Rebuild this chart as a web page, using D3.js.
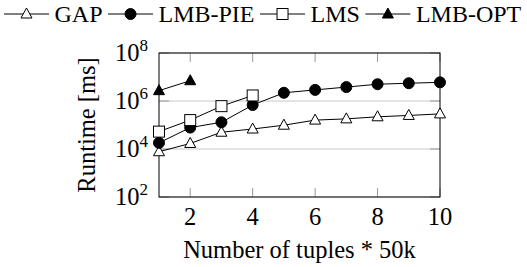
<!DOCTYPE html>
<html>
<head>
<meta charset="utf-8">
<script src="https://cdn.jsdelivr.net/npm/d3@7"></script>
<style>
  body { margin: 0; background: #fff; }
  text { font-family: "Liberation Serif", "DejaVu Serif", serif; fill: #000; }
</style>
</head>
<body>
<svg id="chart" width="527" height="267"></svg>
<script>
// Data (runtime in ms)
const tuples = [1, 2, 3, 4, 5, 6, 7, 8, 9, 10];
const gap    = [7.7e3, 1.7e4, 5.0e4, 6.8e4, 9.8e4, 1.6e5, 1.8e5, 2.2e5, 2.5e5, 2.9e5];
const lmbPie = [1.8e4, 7.8e4, 1.3e5, 6.8e5, 2.2e6, 2.9e6, 3.8e6, 5.0e6, 5.5e6, 6.0e6];
const lms    = [5.3e4, 1.6e5, 6.1e5, 1.7e6];
const lmbOpt = [2.7e6, 7.0e6];
const xTicks = [2, 4, 6, 8, 10];
const yExps  = [2, 4, 6, 8];

const series = [
  { name: 'GAP',     values: gap,    marker: 'triangle', fill: '#fff' },
  { name: 'LMB-PIE', values: lmbPie, marker: 'circle',   fill: '#000' },
  { name: 'LMS',     values: lms,    marker: 'square',   fill: '#fff' },
  { name: 'LMB-OPT', values: lmbOpt, marker: 'triangle', fill: '#000' }
];

const FS = 24.5;
const svg = d3.select('#chart');
const plot = { left: 159, right: 440, top: 53, bottom: 197 };

const x = d3.scaleLinear().domain([1, 10]).range([plot.left, plot.right]);
const y = d3.scaleLog().domain([1e2, 1e8]).range([plot.bottom, plot.top]);

// Horizontal grid lines
svg.append('g')
  .selectAll('line')
  .data(yExps)
  .join('line')
  .attr('x1', plot.left).attr('x2', plot.right)
  .attr('y1', d => y(10 ** d)).attr('y2', d => y(10 ** d))
  .attr('stroke', '#c8c8c8').attr('stroke-width', 1);

// Inner ticks, left/right and top/bottom
const ticks = svg.append('g').attr('stroke', '#999').attr('stroke-width', 1);
yExps.forEach(e => {
  const yy = y(10 ** e);
  ticks.append('line').attr('x1', plot.left).attr('x2', plot.left + 10).attr('y1', yy).attr('y2', yy);
  ticks.append('line').attr('x1', plot.right - 10).attr('x2', plot.right).attr('y1', yy).attr('y2', yy);
});
xTicks.forEach(t => {
  const xx = x(t);
  ticks.append('line').attr('x1', xx).attr('x2', xx).attr('y1', plot.bottom).attr('y2', plot.bottom - 9);
  ticks.append('line').attr('x1', xx).attr('x2', xx).attr('y1', plot.top).attr('y2', plot.top + 9);
});

// Frame
svg.append('rect')
  .attr('x', plot.left).attr('y', plot.top)
  .attr('width', plot.right - plot.left).attr('height', plot.bottom - plot.top)
  .attr('fill', 'none').attr('stroke', '#000').attr('stroke-width', 1);

// Tick labels
svg.append('g')
  .selectAll('text')
  .data(xTicks)
  .join('text')
  .attr('x', d => x(d)).attr('y', 225)
  .attr('text-anchor', 'middle')
  .attr('font-size', FS)
  .text(d => d);

const yl = svg.append('g')
  .selectAll('text')
  .data(yExps)
  .join('text')
  .attr('x', 148).attr('y', d => y(10 ** d) + 8)
  .attr('text-anchor', 'end')
  .attr('font-size', FS);
yl.append('tspan').text('10');
yl.append('tspan').attr('dy', -10).attr('font-size', 17).text(d => d);

// Axis titles
svg.append('text')
  .attr('x', (plot.left + plot.right) / 2).attr('y', 258)
  .attr('text-anchor', 'middle')
  .attr('font-size', FS)
  .text('Number of tuples * 50k');

svg.append('text')
  .attr('transform', `translate(95, ${(plot.top + plot.bottom) / 2}) rotate(-90)`)
  .attr('text-anchor', 'middle')
  .attr('font-size', FS)
  .text('Runtime [ms]');

// Marker drawing
function drawMarker(g, kind, fill) {
  if (kind === 'circle') {
    g.append('circle').attr('r', 5.5).attr('fill', fill).attr('stroke', '#000');
  } else if (kind === 'square') {
    g.append('rect').attr('x', -5.5).attr('y', -5.5).attr('width', 11).attr('height', 11)
      .attr('fill', fill).attr('stroke', '#000');
  } else {
    g.append('path').attr('d', 'M0,-6L5.5,4L-5.5,4Z')
      .attr('fill', fill).attr('stroke', '#000');
  }
}

const line = d3.line().x((d, i) => x(tuples[i])).y(d => y(d));

series.forEach(s => {
  svg.append('path')
    .attr('d', line(s.values))
    .attr('fill', 'none').attr('stroke', '#000').attr('stroke-width', 1);
  s.values.forEach((v, i) => {
    const g = svg.append('g').attr('transform', `translate(${x(tuples[i])},${y(v)})`);
    drawMarker(g, s.marker, s.fill);
  });
});

// Legend: laid out left to right using measured text widths
const ly = 14, lineLen = 45, gapPx = 5.5;
let lx = 4;
series.forEach(s => {
  svg.append('line')
    .attr('x1', lx).attr('x2', lx + lineLen)
    .attr('y1', ly).attr('y2', ly)
    .attr('stroke', '#000').attr('stroke-width', 1);
  const g = svg.append('g').attr('transform', `translate(${lx + lineLen / 2},${ly})`);
  drawMarker(g, s.marker, s.fill);
  lx += lineLen + gapPx;
  const t = svg.append('text')
    .attr('x', lx).attr('y', ly + 8)
    .attr('font-size', 24)
    .text(s.name);
  lx += t.node().getComputedTextLength() + gapPx;
});
</script>
</body>
</html>
